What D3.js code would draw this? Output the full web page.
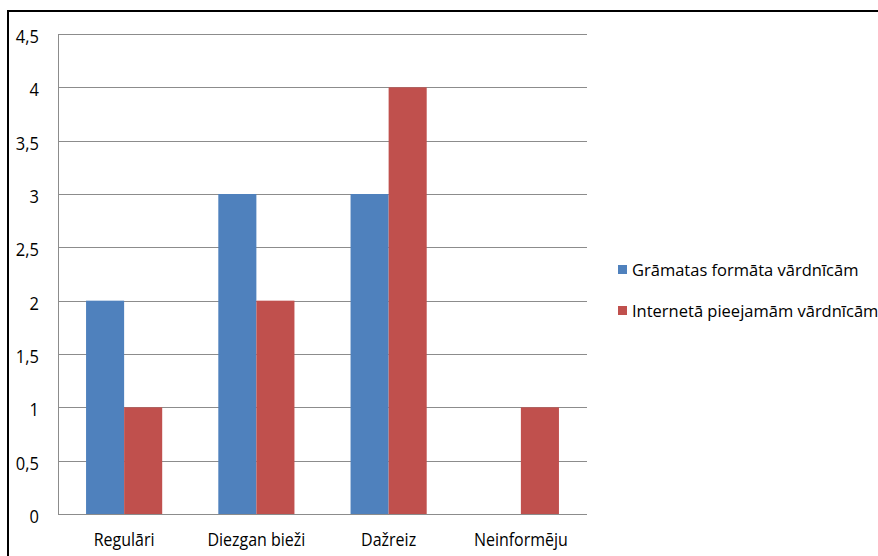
<!DOCTYPE html>
<html>
<head>
<meta charset="utf-8">
<script src="https://cdn.jsdelivr.net/npm/d3@7"></script>
<style>
  body { margin: 0; background: #fff; }
  text { font-family: "Open Sans", "DejaVu Sans", sans-serif; fill: #000; }
</style>
</head>
<body>
<svg id="chart"></svg>
<script>
/* Data */

var CATEGORIES = ["Regulāri", "Diezgan bieži", "Dažreiz", "Neinformēju"];
var SERIES_NAMES = ["Grāmatas formāta vārdnīcām", "Internetā pieejamām vārdnīcām"];
var BOOK_VALUES = [2, 3, 3, 0];
var WEB_VALUES = [1, 2, 4, 1];
var Y_TICKS = [0, 0.5, 1, 1.5, 2, 2.5, 3, 3.5, 4, 4.5];

/* Measures */

var W = 878,
    H = 556;

var PLOT = { left: 58, top: 34, right: 587, bottom: 514 };

var COLORS = ["#4f81bd", "#c0504d"];

// the source font is tall and narrow, so labels get a small vertical stretch
var STRETCH_Y = 1.14;

var svg = d3.select("#chart").attr("width", W).attr("height", H);

// outer frame, right and bottom edges run off the picture
svg.append("rect")
  .attr("x", 8).attr("y", 11)
  .attr("width", W + 20).attr("height", H + 20)
  .attr("fill", "none")
  .attr("stroke", "#000")
  .attr("stroke-width", 2);

var y = d3.scaleLinear().domain([0, 4.5]).range([PLOT.bottom, PLOT.top]);

var x0 = d3.scaleBand()
  .domain(CATEGORIES)
  .range([PLOT.left, PLOT.right])
  .paddingInner(56 / 132)
  .paddingOuter(28 / 132);

var x1 = d3.scaleBand().domain([0, 1]).range([0, x0.bandwidth()]);

// gridlines
svg.append("g").selectAll("line")
  .data(Y_TICKS)
  .enter().append("line")
  .attr("x1", PLOT.left).attr("x2", PLOT.right)
  .attr("y1", function(d) { return Math.round(y(d)) + 0.5; })
  .attr("y2", function(d) { return Math.round(y(d)) + 0.5; })
  .attr("stroke", "#8c8c8c")
  .attr("stroke-width", 1);

// left axis line
svg.append("line")
  .attr("x1", PLOT.left + 0.5).attr("x2", PLOT.left + 0.5)
  .attr("y1", PLOT.top).attr("y2", PLOT.bottom)
  .attr("stroke", "#8c8c8c");

// bars
var rows = CATEGORIES.map(function(c, i) { return { cat: c, vals: [BOOK_VALUES[i], WEB_VALUES[i]] }; });

svg.append("g").selectAll("g")
  .data(rows)
  .enter().append("g")
  .attr("transform", function(d) { return "translate(" + x0(d.cat) + ",0)"; })
  .selectAll("rect")
  .data(function(d) { return d.vals.map(function(v, k) { return { k: k, v: v }; }); })
  .enter().append("rect")
  .attr("x", function(d) { return x1(d.k); })
  .attr("width", x1.bandwidth())
  .attr("y", function(d) { return y(d.v); })
  .attr("height", function(d) { return y(0) - y(d.v); })
  .attr("fill", function(d) { return COLORS[d.k]; });

// y tick labels
svg.append("g").selectAll("text")
  .data(Y_TICKS)
  .enter().append("text")
  .attr("transform", function(d) { return "translate(39," + (y(d) + 9) + ") scale(1," + STRETCH_Y + ")"; })
  .attr("text-anchor", "end")
  .style("font-size", "16.5px")
  .text(function(d) { return String(d).replace(".", ","); });

// category labels
svg.append("g").selectAll("text")
  .data(CATEGORIES)
  .enter().append("text")
  .attr("transform", function(d) { return "translate(" + (x0(d) + x0.bandwidth() / 2) + ",546) scale(1," + STRETCH_Y + ")"; })
  .attr("text-anchor", "middle")
  .style("font-size", "16px")
  .text(String);

// legend
var legend = svg.append("g").attr("transform", "translate(618,265)");

legend.selectAll("rect")
  .data(SERIES_NAMES)
  .enter().append("rect")
  .attr("x", 0)
  .attr("y", function(d, i) { return i * 41; })
  .attr("width", 9).attr("height", 9)
  .attr("fill", function(d, i) { return COLORS[i]; });

legend.selectAll("text")
  .data(SERIES_NAMES)
  .enter().append("text")
  .attr("x", 14)
  .attr("y", function(d, i) { return i * 41 + 11; })
  .style("font-size", "16.5px")
  .text(String);
</script>
</body>
</html>
